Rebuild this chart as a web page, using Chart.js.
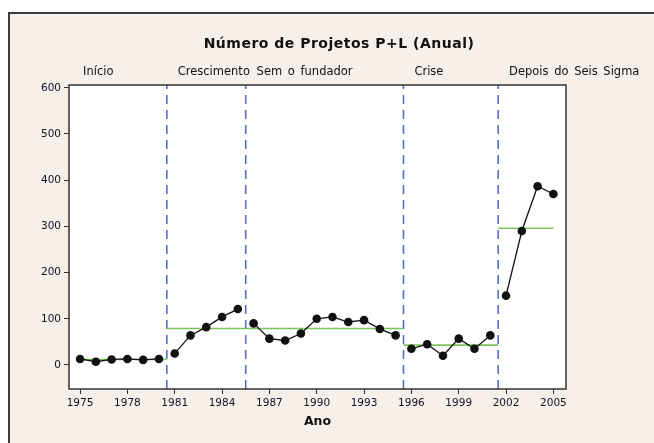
<!DOCTYPE html>
<html>
<head>
<meta charset="utf-8">
<script src="https://cdn.jsdelivr.net/npm/chart.js@4"></script>
<style>
  html, body { margin: 0; padding: 0; background: #fff; overflow: hidden; }
  #frame {
    position: absolute; left: 8px; top: 12px; width: 680px; height: 460px;
    background: #f6efea; border-left: 2px solid #3c3c3c; border-top: 2px solid #3c3c3c;
  }
  #wrap { position: absolute; left: 0; top: 0; width: 654px; height: 443px; }
</style>
</head>
<body>
<div id="frame"></div>
<div id="wrap"><canvas id="chart" width="654" height="443"></canvas></div>
<script>
// dados
var years = [1975, 1976, 1977, 1978, 1979, 1980, 1981, 1982, 1983, 1984, 1985,
  1986, 1987, 1988, 1989, 1990, 1991, 1992, 1993, 1994, 1995,
  1996, 1997, 1998, 1999, 2000, 2001, 2002, 2003, 2004, 2005];
var projects = [13, 7, 12, 13, 11, 13, 25, 64, 82, 104, 121,
  90, 57, 53, 68, 100, 104, 93, 97, 78, 64,
  35, 45, 20, 57, 35, 64, 150, 290, 387, 370];
var stageNames = ['Início', 'Crescimento', 'Sem o fundador', 'Crise', 'Depois do Seis Sigma'];
var stageFirstYear = [1975, 1981, 1986, 1996, 2002];
var stageMeans = [12, 79, 79, 43, 296];
var xTicks = [1975, 1978, 1981, 1984, 1987, 1990, 1993, 1996, 1999, 2002, 2005];
var yTicks = [0, 100, 200, 300, 400, 500, 600];

var yMin = -52, yMax = 606;
var FONT = "'DejaVu Sans', sans-serif";
var lastYear = years[years.length - 1];

var datasets = [];
stageFirstYear.forEach(function (first, i) {
  var next = i < stageFirstYear.length - 1 ? stageFirstYear[i + 1] : lastYear + 1;
  var pts = [];
  years.forEach(function (y, k) {
    if (y >= first && y < next) pts.push({ x: y, y: projects[k] });
  });
  datasets.push({
    data: pts, borderColor: '#111', backgroundColor: '#111', borderWidth: 1.3,
    pointRadius: 4.3, pointBorderWidth: 0, order: 0
  });
  var start = i === 0 ? first : first - 0.5;
  var end = i < stageFirstYear.length - 1 ? next - 0.5 : lastYear;
  datasets.push({
    data: [{ x: start, y: stageMeans[i] }, { x: end, y: stageMeans[i] }],
    borderColor: '#7cc45a', borderWidth: 1.6, pointRadius: 0, order: 1
  });
  if (i > 0) {
    datasets.push({
      data: [{ x: first - 0.5, y: yMin }, { x: first - 0.5, y: yMax }],
      borderColor: '#5a6fc4', borderWidth: 1.6, borderDash: [9, 6], pointRadius: 0, order: 2
    });
  }
});

var framePlugin = {
  id: 'frame',
  beforeDraw: function (chart) {
    var a = chart.chartArea, ctx = chart.ctx;
    ctx.save();
    ctx.fillStyle = '#fff';
    ctx.fillRect(a.left, a.top, a.right - a.left, a.bottom - a.top);
    ctx.restore();
  },
  afterDraw: function (chart) {
    var a = chart.chartArea, ctx = chart.ctx, xs = chart.scales.x;
    ctx.save();
    ctx.strokeStyle = '#333';
    ctx.lineWidth = 1.5;
    ctx.strokeRect(a.left, a.top, a.right - a.left, a.bottom - a.top);
    ctx.fillStyle = '#111';
    ctx.textBaseline = 'middle';
    ctx.font = 'bold 14px ' + FONT;
    ctx.letterSpacing = '0.5px';
    ctx.textAlign = 'center';
    ctx.fillText('Número de Projetos P+L (Anual)', 339, 44);
    ctx.font = '11.5px ' + FONT;
    ctx.letterSpacing = '0px';
    ctx.wordSpacing = '2px';
    ctx.textAlign = 'left';
    stageNames.forEach(function (name, i) {
      ctx.fillText(name, xs.getPixelForValue(stageFirstYear[i]) + 3, 72);
    });
    ctx.restore();
  }
};

var ctx = document.getElementById('chart').getContext('2d');
var chart = new Chart(ctx, {
  type: 'line',
  data: { datasets: datasets },
  plugins: [framePlugin],
  options: {
    responsive: false,
    animation: false,
    layout: { padding: { top: 85, right: 88, left: 0, bottom: 0 } },
    plugins: { legend: { display: false }, title: { display: false }, tooltip: { enabled: false } },
    scales: {
      x: {
        type: 'linear', min: 1974.3, max: 2005.8,
        afterBuildTicks: function (s) { s.ticks = xTicks.map(function (v) { return { value: v }; }); },
        afterFit: function (s) { s.height = 54; },
        grid: { drawOnChartArea: false, tickLength: 5, tickColor: '#333', tickWidth: 1 },
        border: { display: false },
        ticks: { color: '#111122', font: { family: FONT, size: 10.5 }, padding: 3, maxRotation: 0,
          callback: function (v) { return String(v); } },
        title: { display: true, text: 'Ano', color: '#111', font: { family: FONT, size: 12.5, weight: 'bold' },
          padding: { top: 0, bottom: 14 } }
      },
      y: {
        type: 'linear', min: yMin, max: yMax,
        afterBuildTicks: function (s) { s.ticks = yTicks.map(function (v) { return { value: v }; }); },
        afterFit: function (s) { s.width = 69; },
        grid: { drawOnChartArea: false, tickLength: 5, tickColor: '#333', tickWidth: 1 },
        border: { display: false },
        ticks: { color: '#111122', font: { family: FONT, size: 10.5 }, padding: 3 }
      }
    }
  }
});
</script>
</body>
</html>
